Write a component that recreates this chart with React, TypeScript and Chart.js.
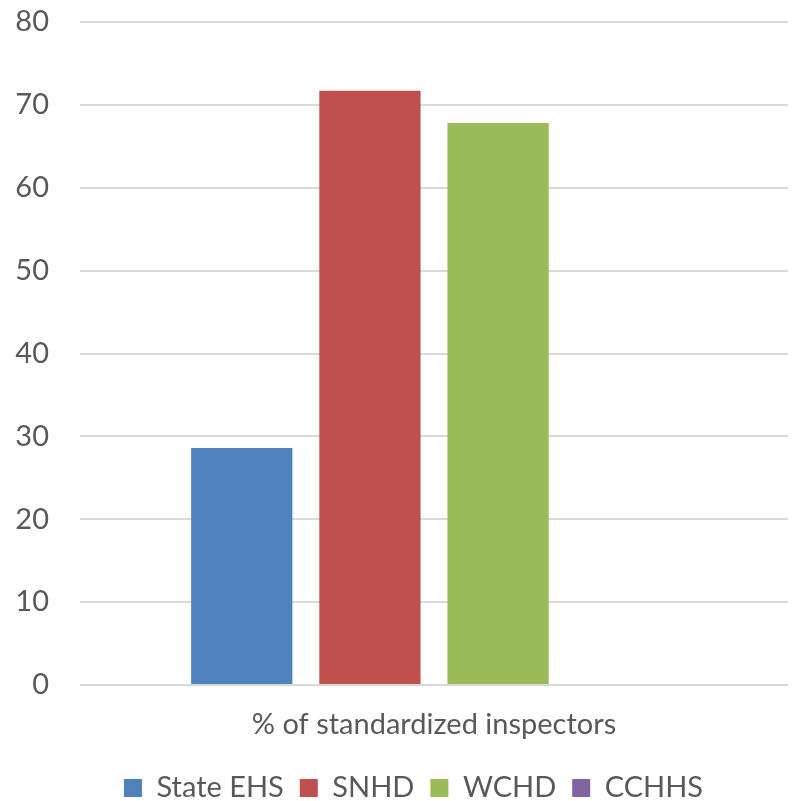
import React, { useEffect, useRef } from "react";
import { Chart, registerables } from "chart.js";

Chart.register(...registerables);

const categories = ["% of standardized inspectors"];
const seriesNames = ["State EHS", "SNHD", "WCHD", "CCHHS"];
const stateEHS = [28.6];
const snhd = [71.7];
const wchd = [67.8];
const cchhs = [0];
const seriesValues = [stateEHS, snhd, wchd, cchhs];
const seriesColors = ["#4f81bd", "#c0504d", "#9bbb59", "#8064a2"];
const yMin = 0;
const yMax = 80;
const yStep = 10;

const TEXT = "#595959";
const GRID = "#d9d9d9";
const FONT = "Lato, 'Open Sans', sans-serif";

const legendPlacer = {
  id: "legendPlacer",
  afterLayout(chart: any) {
    const lg = chart.legend;
    if (!lg) return;
    const pad = lg.options.labels.padding;
    const itemH = 29;
    const targetCenterX = 413.5;
    const targetRowCenterY = 788;
    const dx = targetCenterX - (lg.left + lg.right) / 2;
    const dy = targetRowCenterY - (lg.top + pad + itemH / 2);
    lg.left += dx;
    lg.right += dx;
    lg.top += dy;
    lg.bottom += dy;
  },
};

export default function App() {
  const ref = useRef<HTMLCanvasElement | null>(null);

  useEffect(() => {
    if (!ref.current) return;
    const chart = new Chart(ref.current, {
      type: "bar",
      data: {
        labels: categories,
        datasets: seriesNames.map((name, i) => ({
          label: name,
          data: seriesValues[i],
          backgroundColor: seriesColors[i],
          borderWidth: 0,
          categoryPercentage: 0.724,
          barPercentage: 0.79,
        })),
      },
      options: {
        responsive: false,
        animation: false,
        layout: { padding: { top: 22, right: 6, bottom: 1, left: 0 } },
        plugins: {
          legend: {
            position: "bottom",
            labels: {
              boxWidth: 18,
              boxHeight: 18,
              padding: 16,
              color: TEXT,
              font: { family: FONT, size: 29 },
            },
          },
          tooltip: { enabled: false },
        },
        scales: {
          x: {
            grid: { display: false, drawTicks: false },
            border: { display: false },
            ticks: {
              color: TEXT,
              font: { family: FONT, size: 29 },
              padding: 22,
            },
            afterFit(scale: any) {
              scale.height = 60;
            },
          },
          y: {
            min: yMin,
            max: yMax,
            grid: { color: GRID, lineWidth: 2, drawTicks: false },
            border: { display: false },
            ticks: {
              stepSize: yStep,
              color: TEXT,
              font: { family: FONT, size: 29 },
              padding: 31,
            },
            afterFit(scale: any) {
              scale.width = 80;
              scale.paddingTop = 0;
              scale.paddingBottom = 0;
            },
          },
        },
      },
      plugins: [legendPlacer],
    });
    return () => chart.destroy();
  }, []);

  return (
    <div style={{ position: "absolute", left: 0, top: 0, width: 794, height: 801, background: "#fff" }}>
      <canvas ref={ref} width={794} height={801} />
    </div>
  );
}
